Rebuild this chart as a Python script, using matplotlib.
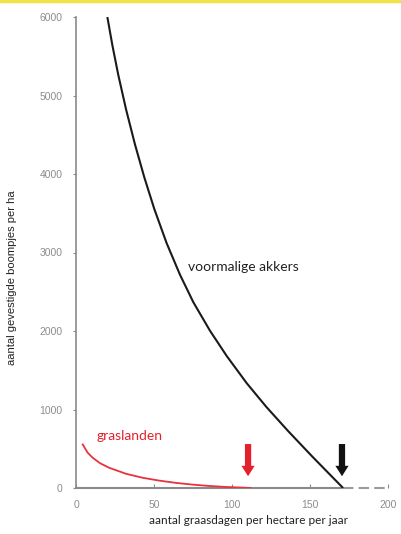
import matplotlib
matplotlib.use("Agg")
import matplotlib.pyplot as plt
import numpy as np

## curve values
akkers_x = [20.1, 23.3, 27.1, 32.1, 37.8, 43.8, 50.2, 58.1, 66.7, 75.2, 85.9,
            96.6, 109.4, 122.1, 135.9, 151.3, 171.2]
akkers_y = [6000, 5642, 5262, 4822, 4377, 3957, 3554, 3119, 2715, 2367, 2003,
            1682, 1336, 1031, 727, 404, 0]

gras_x = [4.3, 7.5, 10.7, 15.5, 21.3, 32.1, 42.8, 53.4, 64.1, 74.8, 85.4, 96.2, 104.0, 112.0]
gras_y = [555, 449, 385, 315, 257, 181, 130, 94, 65, 43, 26, 13, 7, 0]

arrow_x_gras = 110.3
arrow_x_akkers = 170.5

x_ticks = [0, 50, 100, 150, 200]
y_ticks = [0, 1000, 2000, 3000, 4000, 5000, 6000]

narrow = ["Liberation Sans Narrow", "Liberation Sans", "DejaVu Sans"]
tick_font = ["Liberation Sans", "DejaVu Sans"]
axis_grey = "#8a8a8a"

fig = plt.figure(figsize=(4.01, 5.34), dpi=100)
## yellow strip at the top
fig.add_artist(plt.Line2D([0, 1], [0.998, 0.998], color="#f2e24a", lw=2.5))

ax = fig.add_axes([76 / 401, 46 / 534, 312 / 401, 471 / 534])
ax.set_xlim(0, 200)
ax.set_ylim(0, 6000)

ax.plot(akkers_x, akkers_y, color="#1a1a1a", lw=1.5, solid_capstyle="butt",
        solid_joinstyle="round")
ax.plot(gras_x, gras_y, color="#e8323c", lw=1.3, solid_joinstyle="round")

## axis line: solid up to the end of the curve, dashed afterwards
ax.spines["top"].set_visible(False)
ax.spines["right"].set_visible(False)
ax.spines["bottom"].set_visible(False)
ax.spines["left"].set_color(axis_grey)
ax.spines["left"].set_linewidth(1.2)
ax.plot([0, akkers_x[-1]], [0, 0], color=axis_grey, lw=1.5, clip_on=False, zorder=1)
ax.plot([akkers_x[-1], 200], [0, 0], color="#9a9a9a", lw=1.5, ls=(0, (5, 2.5)),
        clip_on=False, zorder=1)

ax.set_xticks(x_ticks)
ax.set_yticks(y_ticks)
ax.tick_params(axis="x", direction="in", length=3, color=axis_grey, labelcolor="#8c8c8c",
               labelsize=7.5, pad=9)
ax.tick_params(axis="y", direction="out", length=2.5, color=axis_grey, labelcolor="#8c8c8c",
               labelsize=7.5, pad=7)
for lab in ax.get_xticklabels() + ax.get_yticklabels():
    lab.set_family(tick_font)

## arrows
for xa, col in [(arrow_x_gras, "#e3202b"), (arrow_x_akkers, "#111111")]:
    ax.annotate("", xy=(xa, 150), xytext=(xa, 560),
                arrowprops=dict(arrowstyle="simple,head_width=0.95,head_length=0.75,tail_width=0.45",
                                color=col, lw=0, shrinkA=0, shrinkB=0))

ax.text(72, 2820, "voormalige akkers", fontsize=10, family=["Lato", "DejaVu Sans"],
        color="#222222", va="center", ha="left")
ax.text(13.5, 660, "graslanden", fontsize=10, family=["Lato", "DejaVu Sans"],
        color="#e3202b", va="center", ha="left")

fig.text(249 / 401, 1 - 520 / 534, "aantal graasdagen per hectare per jaar", fontsize=8.5,
         family=["Lato", "DejaVu Sans"], color="#222222", ha="center", va="center")
fig.text(12 / 401, 1 - 278 / 534, "aantal gevestigde boompjes per ha", fontsize=8,
         family=narrow, color="#222222", ha="center", va="center", rotation=90)

fig.savefig("out.png", dpi=100)
